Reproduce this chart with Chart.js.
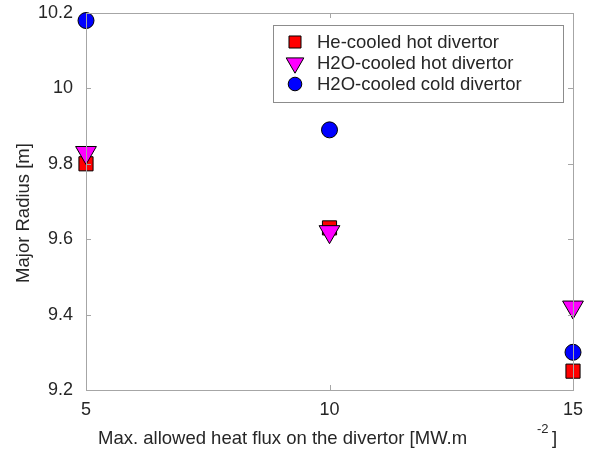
<!DOCTYPE html>
<html>
<head>
<meta charset="utf-8">
<script src="https://cdn.jsdelivr.net/npm/chart.js@4.4.0/dist/chart.umd.min.js"></script>
<style>
  html, body { margin: 0; padding: 0; background: #fff; }
  #wrap { width: 592px; height: 453px; }
</style>
</head>
<body>
<div id="wrap"><canvas id="radiusChart"></canvas></div>
<script>
// values
const heatFlux = [5, 10, 15];
const heCooledHot = [9.80, 9.63, 9.25];
const h2oCooledHot = [9.83, 9.62, 9.42];
const h2oCooledCold = [10.18, 9.89, 9.30];
const seriesNames = ['He-cooled hot divertor', 'H2O-cooled hot divertor', 'H2O-cooled cold divertor'];
const xTicks = [5, 10, 15];
const yTicks = [9.2, 9.4, 9.6, 9.8, 10, 10.2];

const FONT = '"Liberation Sans", Arial, sans-serif';
const TEXT = '#262626';
const AXIS = '#a6a6a6';

function pts(ys) {
    return heatFlux.map((x, i) => ({ x: x, y: ys[i] }));
}

// box round the plot, inward ticks, legend and axis titles (MATLAB look)
const matlabLook = {
    id: 'matlabLook',
    afterDraw(chart) {
        const ctx = chart.ctx;
        const a = chart.chartArea;
        const xs = chart.scales.x, ys = chart.scales.y;
        ctx.save();
        ctx.strokeStyle = AXIS;
        ctx.lineWidth = 1;
        ctx.strokeRect(Math.round(a.left) + 0.5, Math.round(a.top) + 0.5,
            Math.round(a.right - a.left), Math.round(a.bottom - a.top));
        ctx.beginPath();
        xTicks.forEach(v => {
            const px = Math.round(xs.getPixelForValue(v)) + 0.5;
            ctx.moveTo(px, a.bottom); ctx.lineTo(px, a.bottom - 5);
            ctx.moveTo(px, a.top); ctx.lineTo(px, a.top + 5);
        });
        yTicks.forEach(v => {
            const py = Math.round(ys.getPixelForValue(v)) + 0.5;
            ctx.moveTo(a.left, py); ctx.lineTo(a.left + 5, py);
            ctx.moveTo(a.right, py); ctx.lineTo(a.right - 5, py);
        });
        ctx.stroke();

        // legend
        const lx = 273, ly = 25, lw = 290, lh = 77;
        ctx.fillStyle = '#fff';
        ctx.fillRect(lx, ly, lw, lh);
        ctx.strokeStyle = '#8c8c8c';
        ctx.strokeRect(lx + 0.5, ly + 0.5, lw, lh);
        ctx.font = '18.5px ' + FONT;
        ctx.textBaseline = 'middle';
        ctx.textAlign = 'left';
        const rows = [42, 63, 84];
        chart.data.datasets.forEach((ds, i) => {
            ctx.fillStyle = ds.backgroundColor;
            ctx.strokeStyle = '#000';
            ctx.lineWidth = 1;
            Chart.helpers.drawPoint(ctx, {
                pointStyle: ds.pointStyle,
                rotation: ds.rotation || 0,
                radius: ds.pointRadius * 0.85,
                borderWidth: 1
            }, 295, rows[i]);
            ctx.fillStyle = TEXT;
            ctx.fillText(ds.label, 317, rows[i] + 1);
        });

        // axis titles
        ctx.fillStyle = TEXT;
        ctx.font = '18.5px ' + FONT;
        ctx.textAlign = 'left';
        ctx.textBaseline = 'alphabetic';
        ctx.fillText('Max. allowed heat flux on the divertor [MW.m', 98, 444);
        ctx.font = '13px ' + FONT;
        ctx.fillText('-2', 537, 433);
        ctx.font = '18.5px ' + FONT;
        ctx.fillText(']', 552, 444);

        ctx.translate(29, 213);
        ctx.rotate(-Math.PI / 2);
        ctx.textAlign = 'center';
        ctx.fillText('Major Radius [m]', 0, 0);
        ctx.restore();
    }
};

const ctx = document.getElementById('radiusChart').getContext('2d');
const radiusChart = new Chart(ctx, {
    type: 'scatter',
    data: {
        datasets: [{
            label: seriesNames[0],
            data: pts(heCooledHot),
            order: 3,
            pointStyle: 'rect',
            pointRadius: 10,
            backgroundColor: '#ff0000',
            borderColor: '#000',
            borderWidth: 1
        }, {
            label: seriesNames[1],
            data: pts(h2oCooledHot),
            order: 2,
            pointStyle: 'triangle',
            rotation: 180,
            pointRadius: 12,
            backgroundColor: '#ff00ff',
            borderColor: '#000',
            borderWidth: 1
        }, {
            label: seriesNames[2],
            data: pts(h2oCooledCold),
            order: 1,
            pointStyle: 'circle',
            pointRadius: 8,
            backgroundColor: '#0000ff',
            borderColor: '#000',
            borderWidth: 1
        }]
    },
    options: {
        responsive: true,
        maintainAspectRatio: false,
        animation: false,
        events: [],
        clip: false,
        layout: { padding: { left: 0, right: 19, top: 13, bottom: 0 } },
        plugins: {
            legend: { display: false },
            tooltip: { enabled: false }
        },
        scales: {
            x: {
                type: 'linear',
                min: 5,
                max: 15,
                afterFit(scale) {
                    scale.height = 63;
                    scale.paddingLeft = 0;
                    scale.paddingRight = 0;
                },
                afterBuildTicks(scale) { scale.ticks = xTicks.map(v => ({ value: v })); },
                grid: { display: false, drawTicks: false },
                border: { display: false },
                ticks: {
                    padding: 9,
                    color: TEXT,
                    font: { family: FONT, size: 18 }
                }
            },
            y: {
                type: 'linear',
                min: 9.2,
                max: 10.2,
                afterFit(scale) {
                    scale.width = 86;
                    scale.paddingTop = 0;
                    scale.paddingBottom = 0;
                },
                afterBuildTicks(scale) { scale.ticks = yTicks.map(v => ({ value: v })); },
                grid: { display: false, drawTicks: false },
                border: { display: false },
                ticks: {
                    padding: 13,
                    color: TEXT,
                    font: { family: FONT, size: 18 },
                    callback: v => String(Math.round(v * 10) / 10)
                }
            }
        }
    },
    plugins: [matlabLook]
});
</script>
</body>
</html>
